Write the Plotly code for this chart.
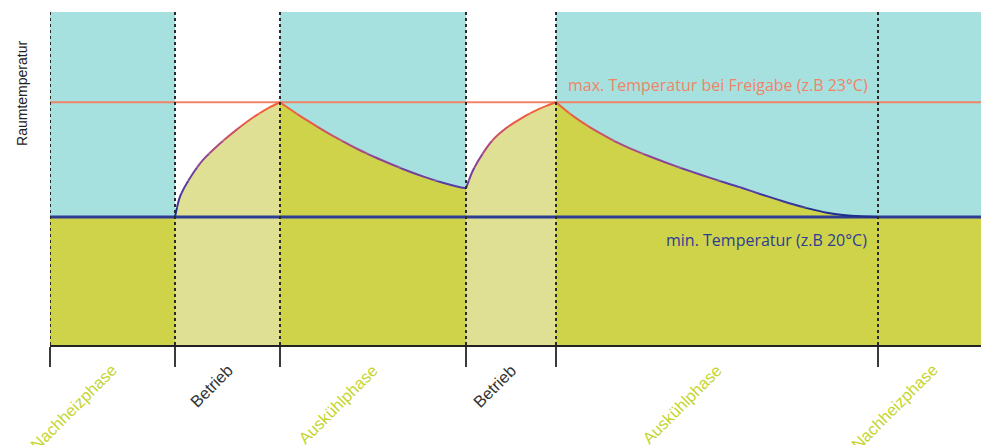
import plotly.graph_objects as go

# ---------------- data ----------------
phase_labels = ["Nachheizphase", "Betrieb", "Auskühlphase", "Betrieb", "Auskühlphase", "Nachheizphase"]
phase_kinds = ["rest", "heat", "cool", "heat", "cool", "rest"]
phase_bounds = [0, 2.5, 4.6, 8.32, 10.12, 16.56, 18.76]

min_temp = 20.0
max_temp = 23.0

rest1_x = [0, 2.5]
rest1_t = [20.0, 20.0]

heat1_x = [2.5, 2.6, 2.8, 3.06, 3.4, 3.74, 4.06, 4.4, 4.6]
heat1_t = [20.0, 20.53, 21.02, 21.49, 21.92, 22.29, 22.6, 22.87, 23.0]

cool1_x = [4.6, 4.9, 5.16, 5.5, 5.84, 6.16, 6.5, 6.84, 7.16, 7.5, 7.84, 8.16, 8.32]
cool1_t = [23.0, 22.73, 22.51, 22.24, 21.99, 21.77, 21.56, 21.37, 21.2, 21.04, 20.9, 20.79, 20.75]

heat2_x = [8.32, 8.46, 8.66, 8.86, 9.14, 9.4, 9.66, 9.94, 10.12]
heat2_t = [20.75, 21.22, 21.67, 22.02, 22.34, 22.56, 22.75, 22.91, 23.0]

cool2_x = [10.12, 10.4, 10.66, 11.0, 11.34, 11.66, 12.0, 12.34, 12.66, 13.0, 13.54, 13.86,
           14.2, 14.54, 14.86, 15.2, 15.54, 15.86, 16.2, 16.56]
cool2_t = [23.0, 22.70, 22.46, 22.19, 21.95, 21.76, 21.58, 21.41, 21.26, 21.11, 20.88, 20.75,
           20.6, 20.46, 20.33, 20.21, 20.11, 20.05, 20.015, 20.0]

rest2_x = [16.56, 18.76]
rest2_t = [20.0, 20.0]

max_label = "max. Temperatur bei Freigabe (z.B 23°C)"
min_label = "min. Temperatur (z.B 20°C)"
y_title = "Raumtemperatur"

# ---------------- styles ----------------
CYAN = "#a6e1df"
OLIVE = "#cfd34a"
KHAKI = "#dfe093"
LABEL_GREEN = "#c6d52f"
LABEL_DARK = "#333333"
MAX_COL = "#f08468"
MIN_COL = "#2d3d93"

Y_LO, Y_HI = 16.65, 25.36

fig = go.Figure()

segments = [(rest1_x, rest1_t), (heat1_x, heat1_t), (cool1_x, cool1_t),
            (heat2_x, heat2_t), (cool2_x, cool2_t), (rest2_x, rest2_t)]

# fills under curve
for (xs, ts), kind in zip(segments, phase_kinds):
    fig.add_trace(go.Scatter(
        x=xs, y=ts, mode="lines", line=dict(width=0, shape="spline", smoothing=0.8),
        fill="tozeroy", fillcolor=KHAKI if kind == "heat" else OLIVE,
        hoverinfo="skip", showlegend=False))

# max / min reference lines
fig.add_trace(go.Scatter(x=[phase_bounds[0], phase_bounds[-1]], y=[max_temp, max_temp],
                         mode="lines", line=dict(color=MAX_COL, width=2),
                         hoverinfo="skip", showlegend=False))
fig.add_trace(go.Scatter(x=[phase_bounds[0], phase_bounds[-1]], y=[min_temp, min_temp],
                         mode="lines", line=dict(color=MIN_COL, width=3),
                         hoverinfo="skip", showlegend=False))

# colour gradient of the curve by temperature: draw the same smooth curve on
# several stacked y-axes whose domains clip it into horizontal colour bands
stops = [(20.0, (31, 45, 140)), (20.8, (90, 60, 168)), (21.7, (160, 72, 140)),
         (22.5, (232, 92, 72)), (23.0, (240, 98, 58))]


def col_for(t):
    if t <= stops[0][0]:
        c = stops[0][1]
    elif t >= stops[-1][0]:
        c = stops[-1][1]
    else:
        for (t0, c0), (t1, c1) in zip(stops[:-1], stops[1:]):
            if t0 <= t <= t1:
                f = (t - t0) / (t1 - t0)
                c = tuple(round(a + (b - a) * f) for a, b in zip(c0, c1))
                break
    return "rgb(%d,%d,%d)" % c


band_edges = [Y_LO, 20.25, 20.6, 20.95, 21.3, 21.65, 22.0, 22.35, 22.7, Y_HI]
layout_axes = {}
for k in range(len(band_edges) - 1):
    lo, hi = band_edges[k], band_edges[k + 1]
    d0 = (lo - Y_LO) / (Y_HI - Y_LO)
    d1 = (hi - Y_LO) / (Y_HI - Y_LO)
    ax_name = "y%d" % (k + 2)
    layout_axes["yaxis%d" % (k + 2)] = dict(domain=[d0, d1], range=[lo, hi], visible=False,
                                            showgrid=False, zeroline=False, fixedrange=True)
    color = col_for(min(max((lo + hi) / 2, 20.0), 23.0))
    for (xs, ts), kind in zip(segments, phase_kinds):
        if kind == "rest":
            continue
        fig.add_trace(go.Scatter(
            x=xs, y=ts, xaxis="x", yaxis=ax_name, mode="lines",
            line=dict(color=color, width=2, shape="spline", smoothing=0.8),
            hoverinfo="skip", showlegend=False))

shapes = []
# cyan background for non-operating phases
for i, kind in enumerate(phase_kinds):
    if kind != "heat":
        shapes.append(dict(type="rect", xref="x", yref="paper",
                           x0=phase_bounds[i], x1=phase_bounds[i + 1], y0=0, y1=1,
                           fillcolor=CYAN, line=dict(width=0), layer="below"))
# dotted phase separators
for b in phase_bounds[:-1]:
    shapes.append(dict(type="line", xref="x", yref="paper", x0=b, x1=b, y0=0, y1=1,
                       line=dict(color="#2a2a2a", width=2, dash="dot"), layer="above"))

annotations = []
for i, lab in enumerate(phase_labels):
    mid = (phase_bounds[i] + phase_bounds[i + 1]) / 2
    annotations.append(dict(
        x=mid, xref="x", y=0, yref="paper", text=lab, showarrow=False,
        textangle=-45, xanchor="right", yanchor="top", xshift=11, yshift=-13,
        font=dict(family="Liberation Sans, Arial", size=16.5,
                  color=LABEL_DARK if phase_kinds[i] == "heat" else LABEL_GREEN)))

annotations.append(dict(
    x=phase_bounds[5], xref="x", y=max_temp, yref="y", text=max_label, showarrow=False,
    xanchor="right", yanchor="middle", xshift=-8, yshift=17,
    font=dict(family="Open Sans", size=16, color=MAX_COL)))
annotations.append(dict(
    x=phase_bounds[5], xref="x", y=min_temp, yref="y", text=min_label, showarrow=False,
    xanchor="right", yanchor="middle", xshift=-9, yshift=-23,
    font=dict(family="Open Sans", size=16, color=MIN_COL)))
annotations.append(dict(
    x=0, xref="paper", y=0.754, yref="paper", text=y_title, showarrow=False,
    textangle=-90, xanchor="center", yanchor="middle", xshift=-28,
    font=dict(family="Liberation Sans, Arial", size=14, color="#222222")))

# the page body has an 8px margin, so the figure is sized/offset to compensate
fig.update_layout(
    width=981, height=437,
    margin=dict(l=42, r=1, t=4, b=100),
    paper_bgcolor="white", plot_bgcolor="rgba(0,0,0,0)",
    shapes=shapes, annotations=annotations,
    xaxis=dict(range=[phase_bounds[0], phase_bounds[-1]], tickvals=phase_bounds,
               ticks="outside", ticklen=20, tickwidth=2, tickcolor="#3a3a3a",
               showticklabels=False, showline=True, linecolor="#222222", linewidth=2,
               showgrid=False, zeroline=False, fixedrange=True),
    yaxis=dict(range=[Y_LO, Y_HI], domain=[0, 1], visible=False, showgrid=False,
               zeroline=False, fixedrange=True),
    **layout_axes,
)

fig.write_html("out.html")
